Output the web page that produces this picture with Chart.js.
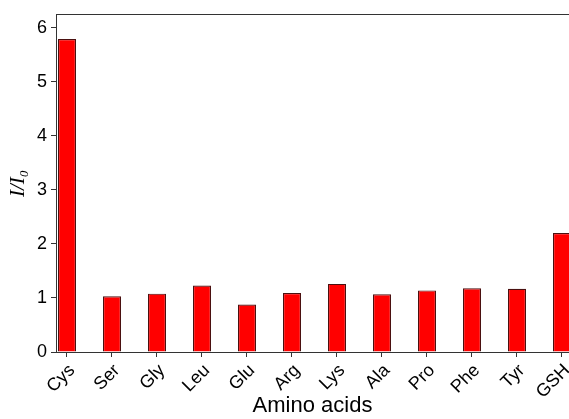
<!DOCTYPE html>
<html>
<head>
<meta charset="utf-8">
<script src="https://cdn.jsdelivr.net/npm/chart.js@4"></script>
<style>
  html, body { margin: 0; padding: 0; background: #fff; overflow: hidden; }
  #wrap { width: 569px; height: 419px; position: relative; }
</style>
</head>
<body>
<div id="wrap"><canvas id="bar-chart" width="569" height="419"></canvas></div>
<script>
// data
const categories = ['Cys', 'Ser', 'Gly', 'Leu', 'Glu', 'Arg', 'Lys', 'Ala', 'Pro', 'Phe', 'Tyr', 'GSH'];
const ratios = [5.79, 1.03, 1.08, 1.23, 0.88, 1.09, 1.26, 1.07, 1.14, 1.18, 1.17, 2.2];
const yTicks = [0, 1, 2, 3, 4, 5, 6];

const axisColor = '#333';
const sans = 'Liberation Sans, Arial, sans-serif';

const ctx = document.getElementById('bar-chart');
new Chart(ctx, {
    type: 'bar',
    data: {
        datasets: [{
            data: ratios.map((v, i) => ({ x: i, y: v })),
            backgroundColor: '#ff0000',
            borderColor: '#4a1010',
            borderWidth: 1.2,
            categoryPercentage: 0.8,
            barPercentage: 0.5
        }]
    },
    options: {
        responsive: false,
        animation: false,
        layout: { padding: { top: 13, left: 0, right: 0, bottom: 0 } },
        plugins: { legend: { display: false }, tooltip: { enabled: false } },
        scales: {
            x: {
                type: 'linear',
                offset: false,
                min: -0.2444,
                max: 11.1556,
                afterBuildTicks: s => { s.ticks = categories.map((c, i) => ({ value: i })); },
                afterFit: s => { s.height = 67; s.paddingLeft = 0; s.paddingRight = 0; },
                grid: { display: true, offset: false, drawOnChartArea: false, drawTicks: true, tickLength: 5, color: axisColor },
                border: { display: true, color: axisColor, width: 1 },
                ticks: {
                    autoSkip: false,
                    minRotation: 45,
                    maxRotation: 45,
                    padding: 3,
                    labelOffset: 5,
                    color: '#000',
                    font: { family: sans, size: 18 },
                    callback: v => categories[v]
                },
                title: {
                    display: true,
                    text: 'Amino acids',
                    color: '#000',
                    font: { family: sans, size: 22 },
                    padding: { top: 0, bottom: 0 }
                }
            },
            x2: {
                type: 'linear',
                position: 'top',
                offset: false,
                min: 0,
                max: 1,
                afterFit: s => { s.height = 0; s.paddingLeft = 0; s.paddingRight = 0; },
                grid: { display: false, drawTicks: false },
                border: { display: true, color: axisColor, width: 1 },
                ticks: { display: false }
            },
            y: {
                min: 0,
                max: 6.24,
                afterBuildTicks: s => { s.ticks = yTicks.map(v => ({ value: v })); },
                afterFit: s => { s.width = 56; },
                grid: { display: true, drawOnChartArea: false, drawTicks: true, tickLength: 5, color: axisColor },
                border: { display: true, color: axisColor, width: 1 },
                ticks: {
                    padding: 4,
                    color: '#000',
                    font: { family: sans, size: 18 }
                },
                title: {
                    display: true,
                    text: 'I/I₀',
                    color: '#000',
                    font: { family: 'Liberation Serif, Times New Roman, serif', size: 21, style: 'italic' },
                    padding: { top: 6, bottom: 0 }
                }
            }
        }
    }
});
</script>
</body>
</html>
